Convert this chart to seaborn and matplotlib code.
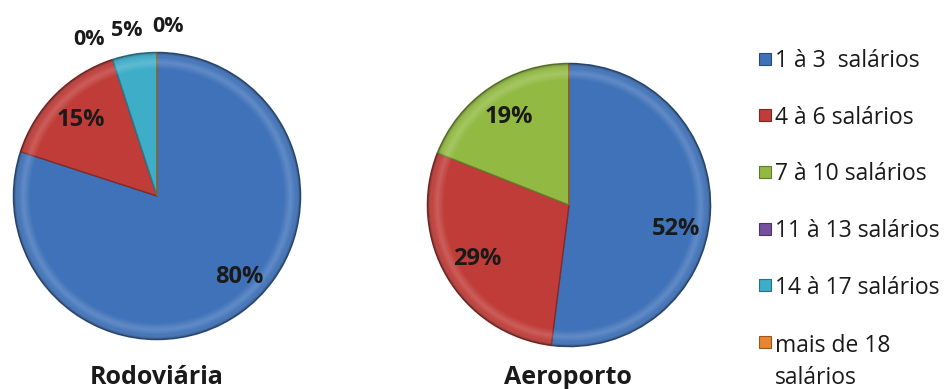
import numpy as np
import matplotlib
matplotlib.use("Agg")
import matplotlib.pyplot as plt
import seaborn as sns
from matplotlib.patches import Rectangle, Circle
import matplotlib.colors as mcolors

categories = ["1 à 3  salários", "4 à 6 salários", "7 à 10 salários",
              "11 à 13 salários", "14 à 17 salários", "mais de 18\nsalários"]
rodoviaria = [80, 15, 0, 0, 5, 0]
aeroporto = [52, 29, 19, None, None, None]
titles = ["Rodoviária", "Aeroporto"]
colors_hex = ["#3F72B9", "#BF3C38", "#92BA42", "#7450A0", "#3DADC8", "#E8862F"]

sns.set_theme(style="white")
plt.rcParams['font.family'] = ['Open Sans', 'DejaVu Sans']
palette = sns.color_palette(colors_hex)


def darker(c, f=0.7):
    r, g, b = mcolors.to_rgb(c)
    return (r * f, g * f, b * f)


W, H = 948, 389
fig = plt.figure(figsize=(W / 100, H / 100), dpi=100)
ax1 = fig.add_axes([12 / W, 1 - 341 / H, 290 / W, 290 / H])
ax2 = fig.add_axes([426 / W, 1 - 348 / H, 286 / W, 286 / H])

# radial bevel shading overlay
n = 400
g = np.linspace(-1, 1, n)
X, Y = np.meshgrid(g, g)
R = np.hypot(X, Y)
shade = np.zeros((n, n, 4))
hl = np.clip(1 - np.abs(R - 0.93) / 0.05, 0, 1)
shade[..., :3] = 1.0
shade[..., 3] = 0.18 * hl
dark = np.clip((R - 0.96) / 0.04, 0, 1)
shade[..., :3] = shade[..., :3] * (1 - dark[..., None])
shade[..., 3] = np.maximum(shade[..., 3], 0.35 * dark)


def draw(ax, values, nudges):
    present = [v is not None for v in values]
    vals = np.array([0 if v is None else v for v in values], float)
    wedges, _ = ax.pie(vals, colors=palette, startangle=90, counterclock=False,
                       radius=1, wedgeprops=dict(linewidth=1.0))
    for w, c in zip(wedges, palette):
        w.set_edgecolor(darker(c, 0.7))
    im = ax.imshow(shade, extent=(-1, 1, -1, 1), origin="lower", zorder=2,
                   interpolation="bilinear")
    clip = Circle((0, 0), 1.0, transform=ax.transData)
    im.set_clip_path(clip)
    total = vals.sum()
    cum = 0.0
    placed = set()
    for i, v in enumerate(vals):
        mid = np.deg2rad(90 - 360 * (cum + v / 2) / total)
        cum += v
        if not present[i]:
            continue
        outside = v < 10
        d = 1.17 if outside else 0.75
        x, y = d * np.cos(mid), d * np.sin(mid)
        dx, dy = nudges.get(i, (0, 0))
        key = (round(x + dx, 3), round(y + dy, 3), v)
        if key in placed:
            continue
        placed.add(key)
        ax.text(x + dx, y + dy, f"{v:.0f}%", ha="center", va="center", zorder=5,
                fontsize=15.5 if outside else 17, fontweight="bold",
                color="#1a1a1a", clip_on=False)
    ax.set_xlim(-1.01, 1.01)
    ax.set_ylim(-1.01, 1.01)
    ax.set_aspect("equal")
    ax.axis("off")


draw(ax1, rodoviaria, {0: (0.13, 0.04), 2: (-0.11, -0.02), 3: (-0.11, -0.02),
                       4: (-0.03, 0.0), 5: (0.08, 0.01)})
draw(ax2, aeroporto, {0: (0.01, -0.12)})

fig.text(157 / W, 1 - 377 / H, titles[0], ha="center", va="center",
         fontsize=18, fontweight="bold", color="#1a1a1a")
fig.text(568 / W, 1 - 377 / H, titles[1], ha="center", va="center",
         fontsize=18, fontweight="bold", color="#1a1a1a")

# legend
base0, pitch, step = 67, 56.7, 33.5
sq = 12
for i, (lab, c) in enumerate(zip(categories, palette)):
    yb = base0 + pitch * i
    nlines = lab.count("\n") + 1
    fig.patches.append(Rectangle((759 / W, 1 - (yb - 2.5) / H), sq / W, sq / H,
                                 transform=fig.transFigure, facecolor=c,
                                 edgecolor=darker(c, 0.65), linewidth=0.8))
    fig.text(775 / W, 1 - (yb + step * (nlines - 1)) / H, lab, ha="left",
             va="baseline", fontsize=16.5, color="#1a1a1a", linespacing=1.45)

fig.savefig("out.png", dpi=100)
